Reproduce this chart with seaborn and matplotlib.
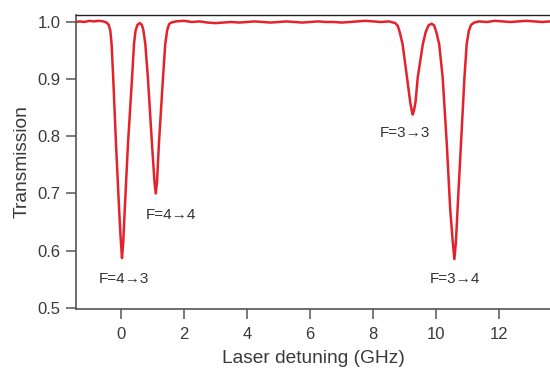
import matplotlib
matplotlib.use('Agg')
import matplotlib.pyplot as plt
import seaborn as sns

# Transmission spectrum (detuning in GHz, transmission)
detuning = [-1.42, -1.3, -1.15, -1.0, -0.85, -0.7, -0.55, -0.45,
            -0.38, -0.33, -0.29, -0.24, -0.15, -0.05, 0.0, 0.04, 0.08, 0.127, 0.23, 0.36, 0.42, 0.47, 0.53,
            0.6, 0.67, 0.72, 0.78, 0.86, 0.99, 1.07, 1.11, 1.15, 1.21, 1.34, 1.41, 1.47, 1.53,
            1.6, 1.75, 2.0, 2.25, 2.5, 2.75, 3.0, 3.25, 3.5, 3.75, 4.0, 4.25, 4.5, 4.75, 5.0,
            5.25, 5.5, 5.75, 6.0, 6.25, 6.5, 6.75, 7.0, 7.25, 7.5, 7.75, 8.0, 8.25, 8.5, 8.7,
            8.78, 8.85, 8.93, 9.07, 9.17, 9.22, 9.25, 9.29, 9.34, 9.41, 9.57, 9.66, 9.75,
            9.85, 9.93, 10.0, 10.09, 10.2, 10.33, 10.44, 10.52, 10.57, 10.62, 10.67, 10.78, 10.89,
            10.96, 11.03, 11.1, 11.2, 11.35, 11.6, 11.85, 12.1, 12.35, 12.6, 12.85, 13.1, 13.35, 13.6]
transmission = [1.000, 1.001, 1.000, 1.002, 1.001, 1.002, 1.001, 0.999,
                0.995, 0.985, 0.962, 0.905, 0.787, 0.671, 0.620, 0.587, 0.615, 0.671, 0.787, 0.903, 0.961, 0.985, 0.995,
                0.998, 0.995, 0.985, 0.961, 0.903, 0.787, 0.720, 0.700, 0.720, 0.787, 0.903, 0.961, 0.985, 0.996,
                0.999, 1.001, 1.002, 1.000, 1.001, 0.999, 0.998, 0.999, 1.000, 0.999, 1.000, 1.001, 1.000, 0.999, 1.000,
                1.001, 1.000, 0.999, 1.000, 1.001, 1.000, 1.000, 0.999, 1.000, 1.001, 1.002, 1.001, 1.000, 1.001, 0.998,
                0.993, 0.980, 0.961, 0.903, 0.860, 0.845, 0.838, 0.845, 0.860, 0.903, 0.961, 0.982, 0.994,
                0.997, 0.994, 0.982, 0.961, 0.903, 0.787, 0.671, 0.615, 0.585, 0.615, 0.671, 0.787, 0.903,
                0.961, 0.985, 0.995, 0.999, 1.001, 1.000, 1.002, 1.001, 1.000, 1.001, 1.002, 1.001, 1.000, 1.001]

# Transition labels and where they sit
labels = ['F=4→3', 'F=4→4', 'F=3→3', 'F=3→4']
label_x = [0.1, 1.6, 9.02, 10.59]
label_y = [0.55, 0.662, 0.805, 0.55]

sns.set_style('ticks')
plt.rcParams['font.family'] = ['Liberation Sans', 'DejaVu Sans']

fig = plt.figure(figsize=(5.5, 3.69), dpi=100)
ax = fig.add_axes([0.138, 0.163, 0.862, 0.796])

sns.lineplot(x=detuning, y=transmission, color='#e3222b', linewidth=1.8,
             estimator=None, sort=False, ax=ax)

for txt, lx, ly in zip(labels, label_x, label_y):
    ax.text(lx, ly, txt, ha='center', va='center', fontsize=11, color='#333333')

ax.set_xlim(-1.42, 13.6)
ax.set_ylim(0.498, 1.012)
ax.set_xticks([0, 2, 4, 6, 8, 10, 12])
ax.set_yticks([0.5, 0.6, 0.7, 0.8, 0.9, 1.0])
ax.set_yticklabels(['0.5', '0.6', '0.7', '0.8', '0.9', '1.0'])
ax.set_xlabel('Laser detuning (GHz)', fontsize=13.8, color='#3a3a3a', labelpad=6)
ax.set_ylabel('Transmission', fontsize=13.8, color='#3a3a3a', labelpad=5)
ax.tick_params(direction='out', length=7, width=1.1, color='#555555',
               labelsize=12, labelcolor='#3a3a3a')
ax.tick_params(axis='x', pad=6)
ax.tick_params(axis='y', pad=4)

ax.spines['right'].set_visible(False)
ax.spines['top'].set_color('#222222')
ax.spines['top'].set_linewidth(1.0)
for side in ['left', 'bottom']:
    ax.spines[side].set_color('#555555')
    ax.spines[side].set_linewidth(1.2)

fig.savefig('out.png', dpi=100)
